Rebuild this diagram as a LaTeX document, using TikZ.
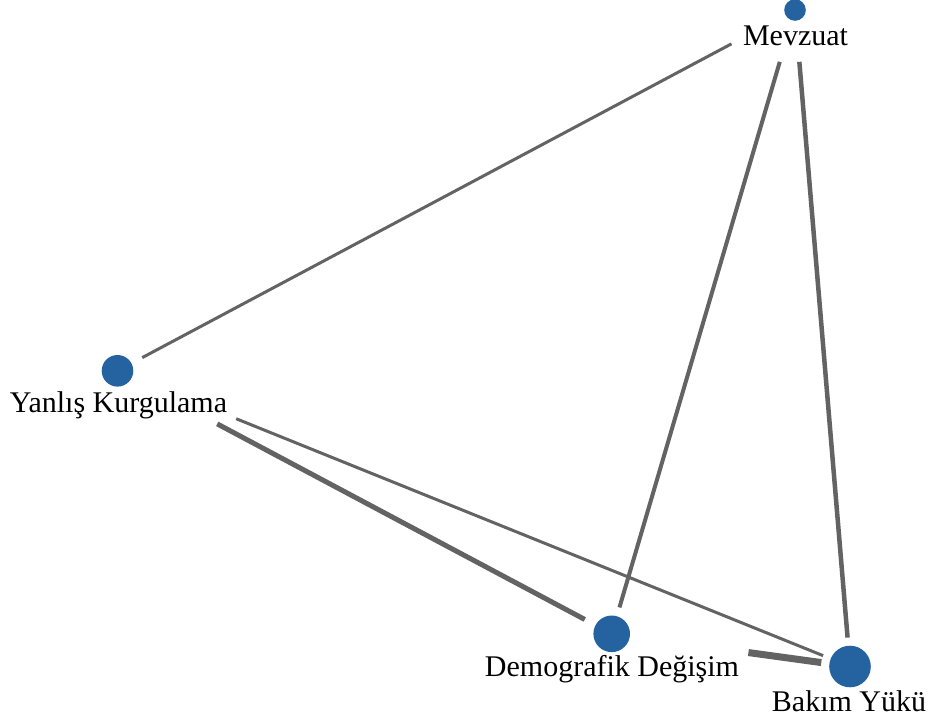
\documentclass[tikz,border=0pt]{standalone}
\usepackage{fontspec}
\setmainfont{Liberation Serif}
\begin{document}
\begin{tikzpicture}[x=1pt,y=-1pt,
  dot/.style={circle,fill=nodeblue,draw=none,inner sep=0pt,minimum size=#1},
  lbl/.style={anchor=base,inner sep=0pt,font=\fontsize{30}{32}\selectfont},
  link/.style={draw=edgegray,line width=#1,line cap=butt}]
\definecolor{nodeblue}{RGB}{37,99,160}
\definecolor{edgegray}{RGB}{99,99,99}
\useasboundingbox (0,0) rectangle (934,718);

% node markers
\node[dot=21.6pt] (mev) at (795,10) {};
\node[dot=31.6pt] (yan) at (117.5,370.8) {};
\node[dot=36.6pt] (dem) at (611.7,633.8) {};
\node[dot=41.6pt] (bak) at (850,666.5) {};

% node labels
\node[lbl] (mevL) at (795.5,45) {Mevzuat};
\node[lbl] (yanL) at (118.5,412) {Yanlış Kurgulama};
\node[lbl] (demL) at (612,676) {Demografik Değişim};
\node[lbl] (bakL) at (849,711) {Bakım Yükü};

% connectors, trimmed clear of the labels
\draw[link=3pt, shorten <=72pt, shorten >=28pt] (mev.center) -- (yan.center);
\draw[link=4pt, shorten <=54pt, shorten >=27.5pt] (mev.center) -- (dem.center);
\draw[link=4.5pt, shorten <=52pt, shorten >=29pt] (mev.center) -- (bak.center);
\draw[link=5pt, shorten <=113pt, shorten >=30.5pt] (yan.center) -- (dem.center);
\draw[link=3pt, shorten <=128pt, shorten >=29pt] (yan.center) -- (bak.center);
\draw[link=7pt, shorten <=138pt, shorten >=29pt] (dem.center) -- (bak.center);
\end{tikzpicture}
\end{document}
